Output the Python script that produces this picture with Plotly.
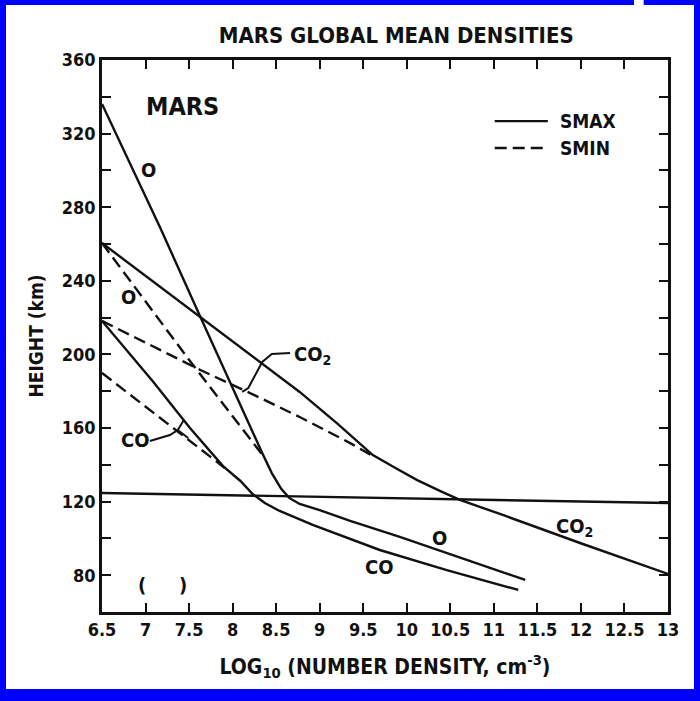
import plotly.graph_objects as go

# ---- data: x = log10(number density, cm^-3), y = height (km) ----
o_smax_x = [6.5, 7.17, 7.63, 7.97, 8.20, 8.34, 8.45, 8.56, 8.65, 8.77, 9.00, 9.35, 9.92, 10.35, 11.36]
o_smax_y = [336.1, 268.7, 220.3, 184.5, 160.5, 146.4, 135.5, 126.8, 122.0, 118.7, 115.4, 109.5, 100.8, 93.7, 77.4]
o_smin_x = [6.5, 7.51, 8.34]
o_smin_y = [260.5, 196.4, 145.5]
co2_smax_x = [6.5, 7.63, 8.40, 8.77, 9.20, 9.61, 9.87, 10.12, 10.38, 10.61, 11.07, 11.99, 13.0]
co2_smax_y = [260.5, 220.3, 193.0, 179.6, 162.5, 145.3, 138.3, 131.7, 125.8, 120.9, 113.3, 97.5, 80.7]
co2_smin_x = [6.5, 7.63, 8.20, 8.77, 9.35, 9.61]
co2_smin_y = [218.2, 191.5, 179.0, 166.0, 151.8, 144.8]
co_smax_x = [6.5, 7.09, 7.51, 7.89, 8.09, 8.23, 8.37, 8.54, 8.92, 9.69, 10.46, 11.28]
co_smax_y = [218.2, 185.0, 160.0, 139.3, 131.2, 124.1, 119.2, 114.9, 107.3, 93.7, 82.8, 72.0]
co_smin_x = [6.5, 7.05, 7.36, 7.82, 7.91]
co_smin_y = [189.9, 169.8, 158.4, 141.5, 138.3]
ref_x = [6.5, 13.0]
ref_y = [124.7, 119.2]

# callout leader lines for labels
co2_brace_x = [8.66, 8.45, 8.34, 8.18, 8.11]
co2_brace_y = [200.8, 200.2, 195.9, 181.7, 179.6]
co_brace_x = [7.05, 7.28, 7.37, 7.44]
co_brace_y = [152.9, 156.2, 158.9, 164.3]
co_brace2_x = [7.37, 7.49]
co_brace2_y = [158.9, 154.6]

# tick labels
x_ticks = [6.5, 7, 7.5, 8, 8.5, 9, 9.5, 10, 10.5, 11, 11.5, 12, 12.5, 13]
x_ticklabels = ["6.5", "7", "7.5", "8", "8.5", "9", "9.5", "10", "10.5", "11", "11.5", "12", "12.5", "13"]
y_ticks = [80, 120, 160, 200, 240, 280, 320, 360]
y_ticklabels = ["80", "120", "160", "200", "240", "280", "320", "360"]

# in-plot labels
label_text = ["O", "O", "CO<sub>2</sub>", "CO", "O", "CO", "CO<sub>2</sub>", "(", ")"]
label_x = [7.03, 6.80, 8.92, 6.88, 10.38, 9.69, 11.93, 6.96, 7.43]
label_y = [300.2, 231.2, 199.7, 153.5, 100.2, 84.5, 106.2, 74.7, 74.7]

# legend key
legend_names = ["SMAX", "SMIN"]
legend_dash = ["solid", "12px,6px"]
legend_key_x = [11.01, 11.62]
legend_key_y = [326.8, 312.2]

FONT = "DejaVu Sans Condensed, DejaVu Sans, sans-serif"
INK = "#111111"
LW = 2.4
DASH = "12px,6px"

fig = go.Figure()

def add_line(x, y, dash="solid", width=LW):
    fig.add_trace(go.Scatter(x=x, y=y, mode="lines", showlegend=False, hoverinfo="skip",
                             line=dict(color=INK, width=width, dash=dash)))

add_line(o_smax_x, o_smax_y)
add_line(o_smin_x, o_smin_y, DASH)
add_line(co2_smax_x, co2_smax_y)
add_line(co2_smin_x, co2_smin_y, DASH)
add_line(co_smax_x, co_smax_y)
add_line(co_smin_x, co_smin_y, DASH)
add_line(ref_x, ref_y)
add_line(co2_brace_x, co2_brace_y, width=2)
add_line(co_brace_x, co_brace_y, width=2)
add_line(co_brace2_x, co_brace2_y, width=2)

for t, x, y in zip(label_text, label_x, label_y):
    fig.add_annotation(x=x, y=y, text=t, showarrow=False,
                       font=dict(family=FONT, size=20, color=INK, weight="bold"))

fig.add_annotation(x=7.42, y=335, text="MARS", showarrow=False,
                   font=dict(family=FONT, size=25, color=INK, weight="bold"))

for name, dash, ky in zip(legend_names, legend_dash, legend_key_y):
    fig.add_shape(type="line", x0=legend_key_x[0], x1=legend_key_x[1], y0=ky, y1=ky,
                  line=dict(color=INK, width=LW, dash=dash))
    fig.add_annotation(x=11.74, y=ky, text=name, showarrow=False, xanchor="left",
                       font=dict(family=FONT, size=19, color=INK, weight="bold"))

# white page inside the blue slide frame, with the small notch at the top right
fig.add_shape(type="rect", xref="paper", yref="paper", x0=-0.1696, x1=1.0459,
              y0=-0.1395, y1=1.0996, fillcolor="white", line=dict(width=0), layer="below")
fig.add_shape(type="rect", xref="paper", yref="paper", x0=0.940, x1=0.957,
              y0=1.0990, y1=1.1090, fillcolor="white", line=dict(width=0), layer="below")

axis_common = dict(showline=True, linewidth=2.5, linecolor=INK, mirror="ticks",
                   ticks="inside", ticklen=9, tickwidth=2, tickcolor=INK,
                   showgrid=False, zeroline=False,
                   tickfont=dict(family=FONT, size=18, color=INK, weight="bold"))

fig.update_layout(
    width=700, height=701,
    margin=dict(l=102, r=32, t=60, b=89),
    paper_bgcolor="#0000FF", plot_bgcolor="white",
    title=dict(text="MARS GLOBAL MEAN DENSITIES", x=0.566, xanchor="center",
               y=0.95, yanchor="middle", yref="container", xref="container",
               font=dict(family=FONT, size=22, color=INK, weight="bold")),
    xaxis=dict(range=[6.5, 13], tickvals=x_ticks, ticktext=x_ticklabels,
               title=dict(text="LOG<sub>10</sub> (NUMBER DENSITY, cm<sup>-3</sup>)", standoff=20,
                          font=dict(family=FONT, size=21, color=INK, weight="bold")),
               **axis_common),
    yaxis=dict(range=[60, 360], tickvals=y_ticks, ticktext=y_ticklabels,
               minor=dict(dtick=20, tick0=60, ticks="inside", ticklen=9, tickwidth=2, tickcolor=INK),
               title=dict(text="HEIGHT (km)", standoff=14,
                          font=dict(family=FONT, size=19, color=INK, weight="bold")),
               **axis_common),
)

fig.write_html("out.html", config={"displayModeBar": False},
               post_script="document.body.style.margin='0px';")
